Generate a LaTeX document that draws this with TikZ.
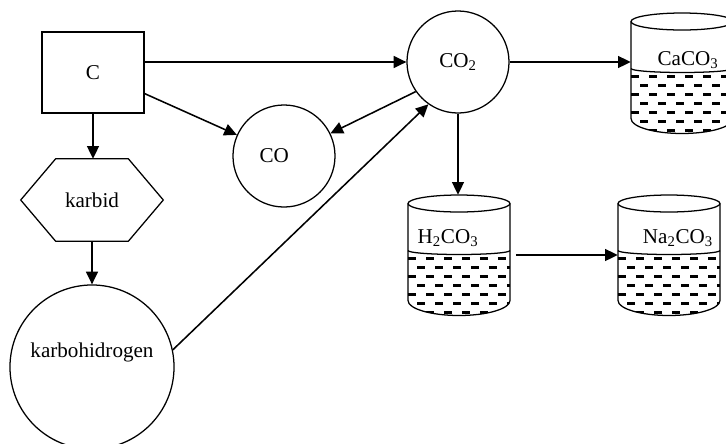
\documentclass[tikz,border=0pt]{standalone}
\usepackage{fontspec}
\setmainfont{Liberation Serif}
\usetikzlibrary{arrows.meta}
\usetikzlibrary{calc}

\begin{document}
\begin{tikzpicture}[x=0.025cm, y=-0.025cm,
  every node/.style={font=\fontsize{15}{18}\selectfont},
  cbox/.style={draw, line width=0.9pt, minimum width=2.55cm, minimum height=2.03cm},
  ball/.style={draw, circle, line width=0.9pt, inner sep=0pt},
  tankbox/.style={minimum width=2.55cm, minimum height=3cm, inner sep=0pt},
  waves/.style={line width=1.5pt, dash pattern=on 5.8pt off 7pt},
  arr/.style={line width=1.1pt, arrows={-Triangle[length=9pt, width=8.5pt]}}]
\useasboundingbox (0,0) rectangle (726,443);
\node[cbox] (c) at (93,72.5) {C};
\node[ball, minimum size=2.55cm] (co2) at (458,62) {CO\textsubscript{2}};
\node[ball, minimum size=2.55cm, label={[xshift=-7pt]center:CO}] (co) at (284,156) {};
\node[minimum width=3.55cm, minimum height=2.05cm, inner sep=0pt] (karbid) at (92,200) {karbid};
\draw[line width=0.9pt] (karbid.west) -- ($(karbid.north west)+(35,0)$) -- ($(karbid.north east)+(-35,0)$) -- (karbid.east) -- ($(karbid.south east)+(-35,0)$) -- ($(karbid.south west)+(35,0)$) -- cycle;
\node[ball, minimum size=4.1cm, label={[yshift=10.6pt]center:karbohidrogen}] (kh) at (92,367) {};
\foreach \name/\x/\y in {caco3/682/21.5, h2co3/459/203.5, na2co3/669/203.5}{
  \node[tankbox] (\name) at (\x,\y+51.5) {};
  \begin{scope}
    \clip (\x-51,\y+47) arc (180:0:51 and 4) -- (\x+51,\y+97) arc (0:180:51 and 15) -- cycle;
    \foreach \k in {0,2,4,6} \draw[waves] (\x-51,\y+55+9*\k) -- (\x+51,\y+55+9*\k);
    \foreach \k in {1,3,5} \draw[waves, dash phase=6.4pt] (\x-51,\y+55+9*\k) -- (\x+51,\y+55+9*\k);
  \end{scope}
  \draw[line width=0.9pt] (\x,\y) ellipse (51 and 8.5);
  \draw[line width=0.9pt] (\x-51,\y) -- (\x-51,\y+97) arc (180:0:51 and 15) -- (\x+51,\y);
  \draw[line width=0.9pt] (\x-51,\y+47) arc (180:0:51 and 4);
}
\node (caco3txt) at (688,60) {CaCO\textsubscript{3}};
\node (h2co3txt) at (448,238) {H\textsubscript{2}CO\textsubscript{3}};
\node (na2co3txt) at (678,238) {Na\textsubscript{2}CO\textsubscript{3}};
\draw[arr] (c.east |- co2.west) -- (co2.west);
\draw[arr] ([yshift=-15pt]c.east) -- (co);
\draw[arr] (c.south) -- (c.south |- karbid.north);
\draw[arr] (karbid.south) -- (kh.north);
\draw[arr] (kh.12) -- (co2.235);
\draw[arr] (co2.215) -- (co.26);
\draw[arr] (co2.south) -- (co2.south |- h2co3.north);
\draw[arr] (co2.east) -- (co2.east -| caco3.west);
\draw[arr] ([xshift=4pt]h2co3.east) -- (na2co3.west);
\end{tikzpicture}
\end{document}
